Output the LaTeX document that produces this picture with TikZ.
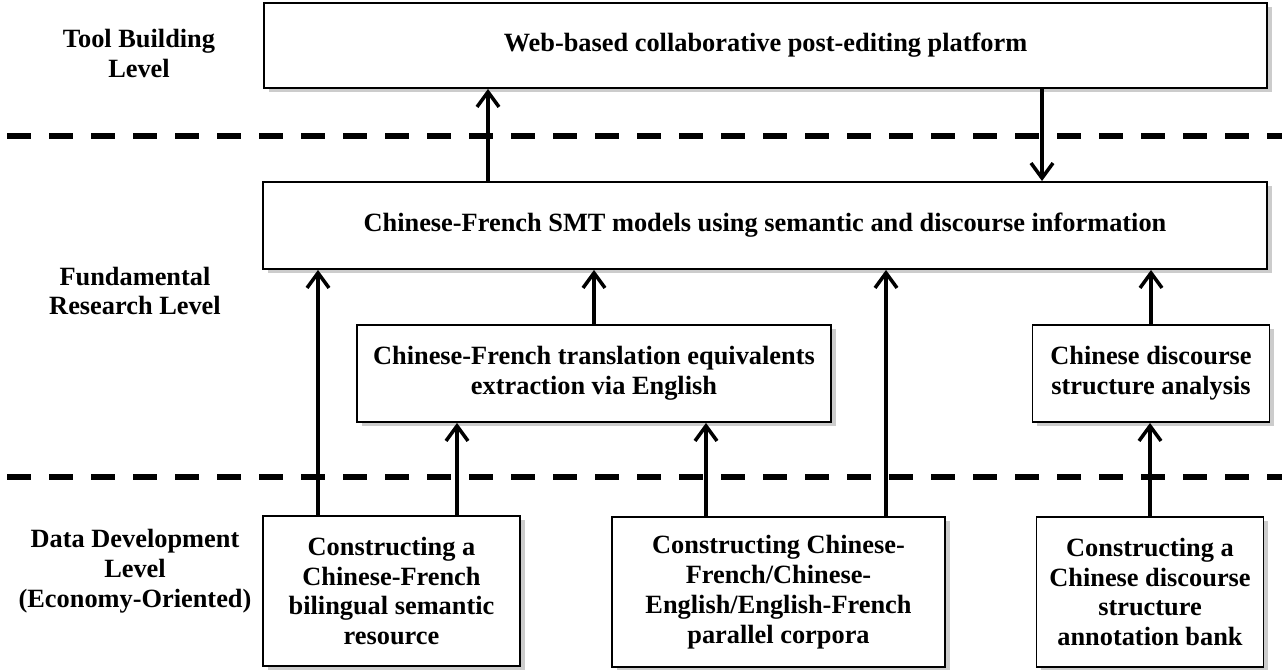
\documentclass[tikz,border=0pt]{standalone}
\usepackage{fontspec}
\setmainfont{Liberation Serif}
\usetikzlibrary{arrows.meta,shadows}

\begin{document}
\begin{tikzpicture}[
  every node/.style={font=\fontsize{15}{17}\selectfont\bfseries},
  box/.style={draw, line width=1.1pt, fill=white, align=center, inner sep=2pt,
    drop shadow={shadow xshift=0.09cm, shadow yshift=-0.09cm, fill=black!20, opacity=1}},
  level/.style={align=center},
  link/.style={line width=2pt, -{Straight Barb[length=0.3cm, width=0.44cm]}},
  sep/.style={line width=3.6pt, dash pattern=on 0.48cm off 0.36cm}]
\useasboundingbox (0,0) rectangle (25.64,13.4);

% level separators
\draw[sep] (0.14,10.68) -- (25.64,10.68);
\draw[sep] (0.14,3.86) -- (25.64,3.86);

% level names
\node[level] (lvl1) at (2.78,12.33) {Tool Building\\Level};
\node[level] (lvl2) at (2.70,7.58) {Fundamental\\Research Level};
\node[level] (lvl3) at (2.70,1.98) {Data Development\\Level\\(Economy-Oriented)};

% boxes
\node[box, minimum width=20.06cm, minimum height=1.70cm] (web) at (15.31,12.49) {Web-based collaborative post-editing platform};
\node[box, minimum width=20.08cm, minimum height=1.74cm] (smt) at (15.30,8.89) {Chinese-French SMT models using semantic and discourse information};
\node[box, minimum width=9.48cm, minimum height=1.94cm] (trans) at (11.88,5.93) {Chinese-French translation equivalents\\extraction via English};
\node[box, minimum width=4.74cm, minimum height=1.94cm] (disc) at (23.02,5.93) {Chinese discourse\\structure analysis};
\node[box, minimum width=5.14cm, minimum height=3.0cm] (dat1) at (7.83,1.58) {Constructing a\\Chinese-French\\bilingual semantic\\resource};
\node[box, minimum width=6.66cm, minimum height=3.0cm] (dat2) at (15.57,1.56) {Constructing Chinese-\\French/Chinese-\\English/English-French\\parallel corpora};
\node[box, minimum width=4.54cm, minimum height=3.0cm] (dat3) at (23.0,1.56) {Constructing a\\Chinese discourse\\structure\\annotation bank};

% arrow columns
\coordinate (x1) at (6.36,0);
\coordinate (x2) at (9.14,0);
\coordinate (x3) at (14.12,0);
\coordinate (x4) at (17.72,0);
\coordinate (x5) at (9.76,0);
\coordinate (x6) at (20.84,0);

\path[draw,link] (smt.north -| x5) -- (web.south -| x5);
\path[draw,link] (web.south -| x6) -- (smt.north -| x6);
\path[draw,link] (dat1.north -| x1) -- (smt.south -| x1);
\path[draw,link] (dat1.north -| x2) -- (trans.south -| x2);
\path[draw,link] (trans.north) -- (trans.north |- smt.south);
\path[draw,link] (dat2.north -| x3) -- (trans.south -| x3);
\path[draw,link] (dat2.north -| x4) -- (smt.south -| x4);
\path[draw,link] (disc.north) -- (disc.north |- smt.south);
\path[draw,link] (dat3.north) -- (dat3.north |- disc.south);
\end{tikzpicture}
\end{document}
